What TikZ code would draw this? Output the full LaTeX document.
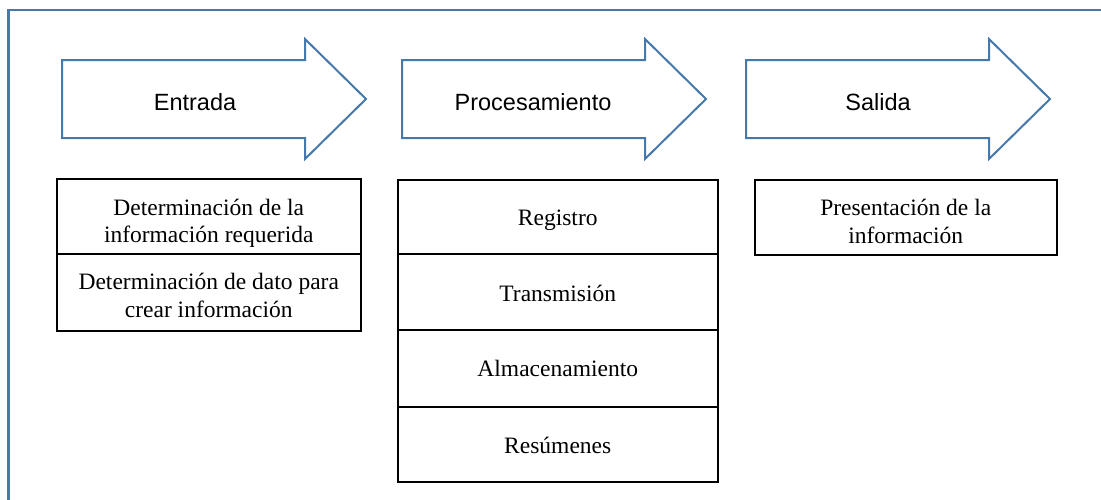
\documentclass[tikz,border=0pt]{standalone}
\usepackage{fontspec}
\usetikzlibrary{calc}
\setmainfont{Liberation Serif}
\newfontfamily\arialf{Liberation Sans}
\definecolor{frameblue}{RGB}{70,120,170}
\tikzset{
  flowarrow/.style={draw=frameblue, line width=2pt, fill=white, line join=miter},
  arrowlabel/.style={font=\arialf\fontsize{23.5}{26}\selectfont, anchor=base, inner sep=0pt},
  rowbox/.style={draw=black, line width=1.5pt, anchor=north west, inner sep=0pt},
  rowtext/.style={anchor=base, inner sep=0pt, align=center, font=\fontsize{23.5}{27.7}\selectfont},
  frameline/.style={draw=frameblue, line width=2.3pt}
}
\begin{document}
\begin{tikzpicture}[x=1pt,y=-1pt]
\useasboundingbox (0,0) rectangle (1101,499);
% frame
\coordinate (ftl) at (8.5,10);
\coordinate (ftr) at (1105,10);
\coordinate (fbl) at (8.5,503);
\draw[frameline] (ftr) -- (ftl) -- (fbl);
% arrows
\foreach \x/\nm in {62/a1,402/a2,746/a3}{
  \draw[flowarrow] (\x,60) -- ++(243,0) -- ++(0,-21) -- ++(61,60) -- ++(-61,60) -- ++(0,-21) -- ++(-243,0) -- cycle;
}
\node[arrowlabel] (lent) at (195,110) {Entrada};
\node[arrowlabel] (lproc) at (533,110) {Procesamiento};
\node[arrowlabel] (lsal) at (878,110) {Salida};
% Entrada boxes
\node[rowbox, minimum width=304pt, minimum height=75pt] (e1) at (56,178) {};
\node[rowbox, minimum width=304pt, minimum height=77pt] (e2) at (56,253) {};
% Procesamiento boxes
\node[rowbox, minimum width=320pt, minimum height=74pt] (p1) at (397,179) {};
\node[rowbox, minimum width=320pt, minimum height=76pt] (p2) at (397,253) {};
\node[rowbox, minimum width=320pt, minimum height=77pt] (p3) at (397,329) {};
\node[rowbox, minimum width=320pt, minimum height=75pt] (p4) at (397,406) {};
% Salida box
\node[rowbox, minimum width=302pt, minimum height=75pt] (s1) at (754,179) {};
% texts
\node[rowtext] (te1) at ($(e1.north)+(0,64.7)$) {Determinación de la\\información requerida};
\node[rowtext] (te2) at ($(e2.north)+(0,64.5)$) {Determinación de dato para\\crear información};
\node[rowtext] (tp1) at ($(p1.north)+(0,46.5)$) {Registro};
\node[rowtext] (tp2) at ($(p2.north)+(0,48)$) {Transmisión};
\node[rowtext] (tp3) at ($(p3.north)+(0,47.5)$) {Almacenamiento};
\node[rowtext] (tp4) at ($(p4.north)+(0,47)$) {Resúmenes};
\node[rowtext] (ts1) at ($(s1.north)+(0,64)$) {Presentación de la\\información};
\end{tikzpicture}
\end{document}
